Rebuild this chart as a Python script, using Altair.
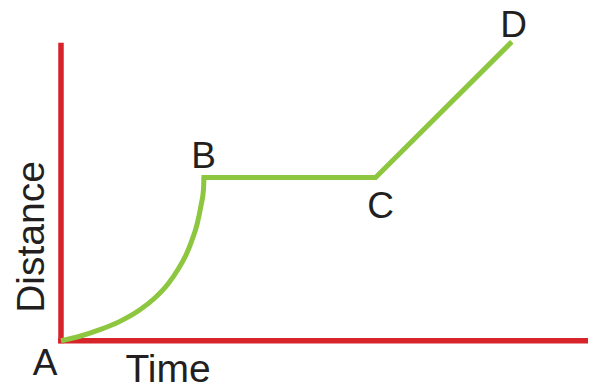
import altair as alt
import pandas as pd

# A -> B: accelerating segment (time, distance)
curve_time = [0.0, 0.66, 1.36, 2.06, 2.76, 3.29, 3.74, 4.09, 4.37, 4.58, 4.76, 4.90, 4.98, 5.0]
curve_dist = [0.0, 0.28, 0.68, 1.19, 1.90, 2.64, 3.48, 4.37, 5.25, 6.17, 7.15, 8.32, 9.23, 10.0]

# B -> C -> D: rest, then constant speed
line_time = [5.0, 11.0, 15.7]
line_dist = [10.0, 10.0, 18.2]

# labelled points
point_names = ["A", "B", "C", "D"]
point_time = [0.0, 5.0, 11.0, 15.7]
point_dist = [0.0, 10.0, 10.0, 18.2]

# axis extents
x_axis_time = [-0.1, 18.5]
y_axis_dist = [-0.15, 18.25]

RED = "#d7232a"
GREEN = "#8dc63f"
INK = "#231f20"
FONT = "Liberation Sans"
FS = 37
TFS = 39

xs = alt.Scale(domain=[-1.853, 18.427], nice=False, zero=False)
ys = alt.Scale(domain=[-2.645, 20.38], nice=False, zero=False)

x_axis = alt.Axis(title="Time", grid=False, ticks=False, labels=False, domain=False,
                  titleX=159.5, titleY=-2.5, titleFontSize=TFS, titleFont=FONT,
                  titleFontWeight="normal", titleColor=INK, titleAlign="center",
                  titleBaseline="alphabetic", titleAngle=0)
y_axis = alt.Axis(title="Distance", grid=False, ticks=False, labels=False, domain=False,
                  titleX=35, titleY=228.5, titleFontSize=TFS, titleFont=FONT,
                  titleFontWeight="normal", titleColor=INK, titleAlign="center",
                  titleBaseline="alphabetic", titleAngle=270)

hx = pd.DataFrame({"t": [x_axis_time[0]], "t2": [x_axis_time[1]], "d": [0.0]})
vy = pd.DataFrame({"t": [0.0], "d": [y_axis_dist[0]], "d2": [y_axis_dist[1]]})

h_rule = alt.Chart(hx).mark_rule(color=RED, strokeWidth=5.5).encode(
    x=alt.X("t:Q", scale=xs, axis=x_axis), x2="t2:Q",
    y=alt.Y("d:Q", scale=ys, axis=y_axis))
v_rule = alt.Chart(vy).mark_rule(color=RED, strokeWidth=5.5).encode(
    x=alt.X("t:Q", scale=xs), y=alt.Y("d:Q", scale=ys), y2="d2:Q")

curve = alt.Chart(pd.DataFrame({"t": curve_time, "d": curve_dist})).mark_line(
    color=GREEN, strokeWidth=5, interpolate="monotone", strokeCap="butt").encode(
    x=alt.X("t:Q", scale=xs), y=alt.Y("d:Q", scale=ys), order="d:Q")
line = alt.Chart(pd.DataFrame({"t": line_time, "d": line_dist})).mark_line(
    color=GREEN, strokeWidth=5, strokeJoin="miter", strokeCap="square").encode(
    x=alt.X("t:Q", scale=xs), y=alt.Y("d:Q", scale=ys), order="t:Q")

pts = pd.DataFrame({"name": point_names, "t": point_time, "d": point_dist})
offsets = {"A": (-16, 34), "B": (-0.5, -9.5), "C": (5, 40.5), "D": (3.5, -6.5)}
labels = []
for n in point_names:
    dx, dy = offsets[n]
    labels.append(alt.Chart(pts[pts.name == n]).mark_text(
        font=FONT, fontSize=FS, color=INK, align="center", baseline="alphabetic",
        dx=dx, dy=dy).encode(x=alt.X("t:Q", scale=xs), y=alt.Y("d:Q", scale=ys), text="name:N"))

chart = alt.layer(h_rule, v_rule, curve, line, *labels).properties(
    width=580, height=376, padding=0, background="white",
    autosize=alt.AutoSizeParams(type="none"),
).configure_view(stroke=None, strokeWidth=0, clip=False)

chart.save("out.html", embed_options={"renderer": "svg", "actions": False})
